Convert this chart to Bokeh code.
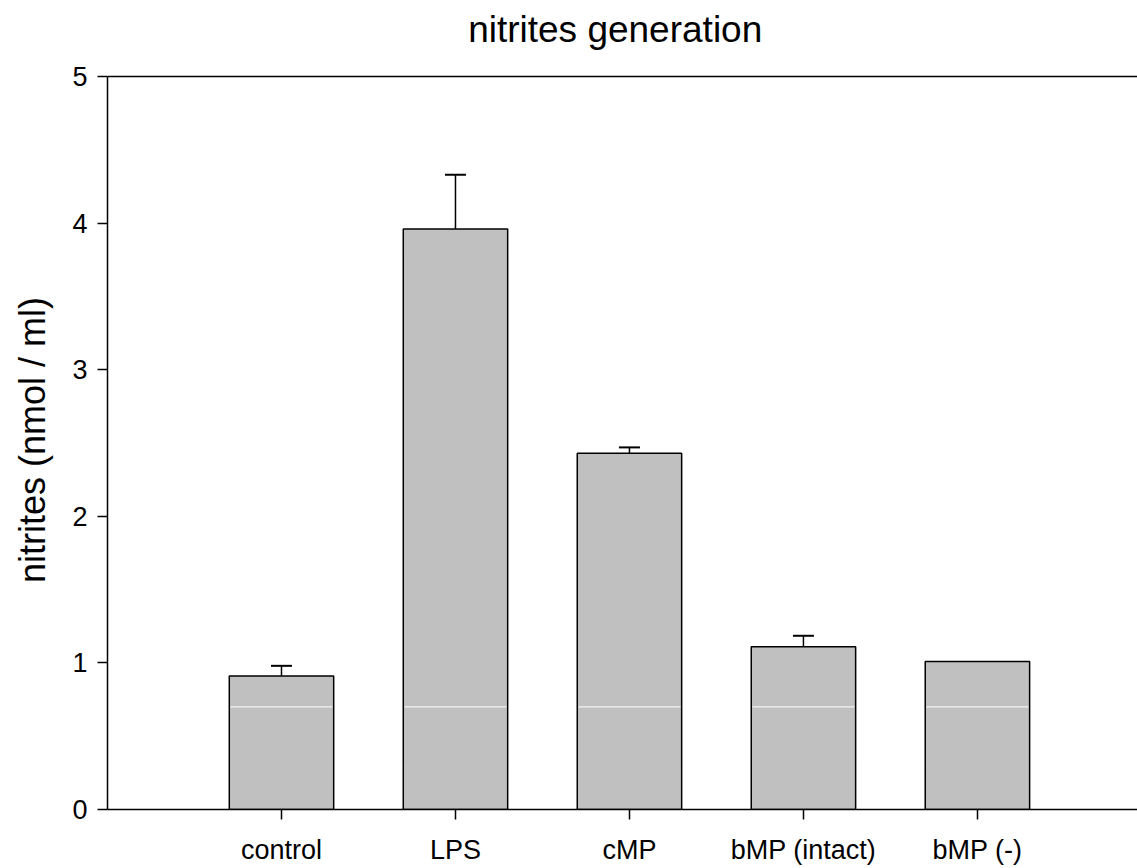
from bokeh.plotting import figure
from bokeh.models import (ColumnDataSource, Range1d, FixedTicker,
                          Whisker, TeeHead, Label, Span)
from bokeh.embed import file_html
from bokeh.resources import INLINE

# ---- data ----
categories = ["control", "LPS", "cMP", "bMP (intact)", "bMP (-)"]
means = [0.91, 3.96, 2.43, 1.11, 1.01]
errors = [0.07, 0.37, 0.04, 0.075, 0.0]
y_ticks = [0, 1, 2, 3, 4, 5]
y_max = 5
white_band_level = 0.70   # thin white line visible inside every bar
title_text = "nitrites generation"
y_label_text = "nitrites (nmol / ml)"

positions = list(range(1, len(categories) + 1))
upper = [m + e for m, e in zip(means, errors)]

FONT = "Liberation Sans"

# the frame reaches the top of the canvas so the title can live inside it;
# the axis value 5 sits at the reference's top border
FRAME_BOTTOM_PX = 809
TOP_BORDER_PX = 76
y_frame_top = y_max * FRAME_BOTTOM_PX / (FRAME_BOTTOM_PX - TOP_BORDER_PX)
px_per_unit = (FRAME_BOTTOM_PX - TOP_BORDER_PX) / y_max

p = figure(width=1137, height=868, output_backend="svg", toolbar_location=None,
           x_range=Range1d(0, 5.92), y_range=Range1d(0, y_frame_top),
           min_border_left=107, min_border_right=0, min_border_top=0,
           min_border_bottom=59)
p.outline_line_color = None
p.xgrid.visible = False
p.ygrid.visible = False
p.background_fill_color = "white"
p.border_fill_color = "white"

src = ColumnDataSource(dict(x=positions, top=means, upper=upper))

p.vbar(x="x", top="top", bottom=0, width=0.6, source=src,
       fill_color="#C0C0C0", line_color="black", line_width=1.5)

# thin white line inside the bars
p.segment(x0=[x - 0.293 for x in positions], x1=[x + 0.293 for x in positions],
          y0=[white_band_level] * len(positions), y1=[white_band_level] * len(positions),
          line_color="white", line_width=1)

wsrc = ColumnDataSource(dict(x=[x for x, e in zip(positions, errors) if e > 0],
                             lower=[m for m, e in zip(means, errors) if e > 0],
                             upper=[m + e for m, e in zip(means, errors) if e > 0]))
p.add_layout(Whisker(base="x", lower="lower", upper="upper", source=wsrc,
                     line_color="black", line_width=1.5,
                     upper_head=TeeHead(size=21, line_color="black", line_width=2),
                     lower_head=None))

# top border at y = 5
p.add_layout(Span(location=y_max, dimension="width", line_color="black",
                  line_width=1.5))

# title above the top border
p.add_layout(Label(x=2.918, y=y_max + 47 / px_per_unit, text=title_text,
                   text_align="center", text_baseline="alphabetic",
                   text_font=FONT, text_font_size="37px", text_color="black"))

# axes
xa = p.xaxis[0]
xa.ticker = FixedTicker(ticks=positions)
xa.major_label_overrides = {pos: c for pos, c in zip(positions, categories)}
ya = p.yaxis[0]
ya.ticker = FixedTicker(ticks=y_ticks)
ya.bounds = (0, y_max)
# non-breaking padding re-centres the label on the 0..5 span of the axis
ya.axis_label = y_label_text + "\u00a0" * 7
for ax in (xa, ya):
    ax.axis_line_color = "black"
    ax.axis_line_width = 1.5
    ax.major_tick_line_color = "black"
    ax.major_tick_line_width = 1.5
    ax.major_tick_out = 10
    ax.major_tick_in = 0
    ax.minor_tick_line_color = None
    ax.major_label_text_font = FONT
    ax.major_label_text_font_size = "27px"
    ax.major_label_text_color = "black"
    ax.axis_label_text_font = FONT
    ax.axis_label_text_font_size = "36px"
    ax.axis_label_text_font_style = "normal"
    ax.axis_label_text_color = "black"
ya.major_label_standoff = 10
xa.major_label_standoff = 15
ya.axis_label_standoff = 16

open("out.html", "w").write(file_html(p, INLINE))
